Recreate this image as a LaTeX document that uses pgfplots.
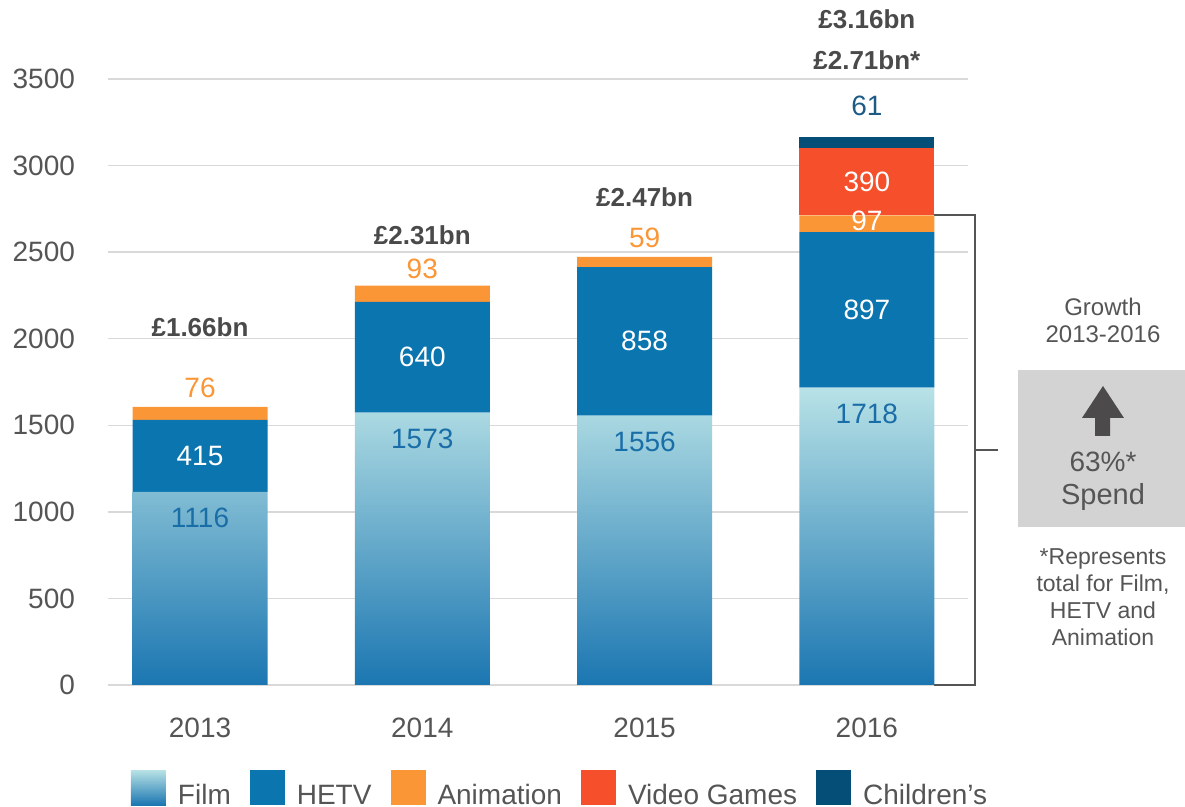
\documentclass[border=0pt]{standalone}
\usepackage{pgfplots}
\pgfplotsset{compat=1.18}
\usetikzlibrary{shadings}
\usepackage{fontspec}
\setmainfont{Liberation Sans}
\definecolor{hetv}{HTML}{0B75AF}
\definecolor{anim}{HTML}{FB9637}
\definecolor{vg}{HTML}{F5502B}
\definecolor{child}{HTML}{044E78}
\definecolor{filmtop}{HTML}{B8E2E6}
\definecolor{filmmid}{HTML}{74AACB}
\definecolor{filmbot}{HTML}{1B76B1}
\definecolor{txt}{HTML}{555555}
\definecolor{tot}{HTML}{4A4A4A}
\definecolor{grd}{HTML}{D9D9D9}
\definecolor{filmlbl}{HTML}{1A6EA8}
\definecolor{childlbl}{HTML}{1D5B85}
\definecolor{boxgray}{HTML}{D3D3D3}
\definecolor{arrowgray}{HTML}{4D4A4B}
\tikzset{lbl/.style={font=\fontsize{14}{16}\selectfont},
  totl/.style={font=\bfseries\fontsize{13}{15}\selectfont, text=tot}}
\begin{document}
\begin{tikzpicture}
\begin{axis}[
  at={(0,0)}, anchor=south west,
  scale only axis, width=430pt, height=303pt,
  xmin=-0.414, xmax=3.455, ymin=0, ymax=3500,
  ybar stacked, bar width=67.5pt,
  axis line style={draw=none}, major tick length=0pt,
  ytick={0,500,...,3500}, ymajorgrids, grid style={grd, line width=0.75pt},
  xtick={0,1,2,3}, xticklabels={2013,2014,2015,2016},
  tick label style={font=\fontsize{14}{16}\selectfont, text=txt},
  yticklabel style={xshift=-13pt},
  xticklabel style={yshift=-13pt},
  /pgf/number format/assume math mode=true,
  /pgf/number format/1000 sep={},
  clip=false,
  legend columns=5,
  legend style={draw=none, fill=none, inner sep=0pt, outer sep=0pt,
    font=\fontsize{14}{16}\selectfont, text=txt,
    cells={anchor=base west},
    at={(0.0267,-0.1403)}, anchor=north west,
    /tikz/every odd column/.append style={column sep=4pt},
    /tikz/every even column/.append style={column sep=7.5pt}},
  legend image code/.code={\path[#1, draw=none] (0pt,-0.5pt) rectangle (17.5pt,17pt);},
]
\addplot[draw=none, top color=filmtop, middle color=filmmid, bottom color=filmbot]
  coordinates {(0,1116) (1,1573) (2,1556) (3,1718)};
\addplot[draw=none, fill=hetv] coordinates {(0,415) (1,640) (2,858) (3,897)};
\addplot[draw=none, fill=anim] coordinates {(0,76) (1,93) (2,59) (3,97)};
\addplot[draw=none, fill=vg] coordinates {(0,0) (1,0) (2,0) (3,390)};
\addplot[draw=none, fill=child] coordinates {(0,0) (1,0) (2,0) (3,61)};
\legend{Film,HETV,Animation,Video Games,Children's}

\coordinate (f0) at (axis cs:0,1116);
\coordinate (f1) at (axis cs:1,1573);
\coordinate (f2) at (axis cs:2,1556);
\coordinate (f3) at (axis cs:3,1718);
\coordinate (h0) at (axis cs:0,1323.5);
\coordinate (h1) at (axis cs:1,1893);
\coordinate (h2) at (axis cs:2,1985);
\coordinate (h3) at (axis cs:3,2166.5);
\coordinate (a0) at (axis cs:0,1607);
\coordinate (a1) at (axis cs:1,2306);
\coordinate (a2) at (axis cs:2,2473);
\coordinate (a3) at (axis cs:3,2663.5);
\coordinate (v3) at (axis cs:3,2907);
\coordinate (c3) at (axis cs:3,3343);
\coordinate (t0) at (axis cs:0,2067);
\coordinate (t1) at (axis cs:1,2598);
\coordinate (t2) at (axis cs:2,2818);
\coordinate (t3a) at (axis cs:3,3609);
\coordinate (t3b) at (axis cs:3,3845);
\draw[txt, line width=1pt] (axis cs:3.3037,2712) -- (axis cs:3.488,2712) -- (axis cs:3.488,0) -- (axis cs:3.3037,0);
\draw[txt, line width=1pt] (axis cs:3.488,1356) -- (axis cs:3.59,1356);
\end{axis}
% value labels on top of the bars
\node[lbl, text=filmlbl, yshift=-13pt] at (f0) {1116};
\node[lbl, text=filmlbl, yshift=-13pt] at (f1) {1573};
\node[lbl, text=filmlbl, yshift=-13pt] at (f2) {1556};
\node[lbl, text=filmlbl, yshift=-13pt] at (f3) {1718};
\node[lbl, text=white] at (h0) {415};
\node[lbl, text=white] at (h1) {640};
\node[lbl, text=white] at (h2) {858};
\node[lbl, text=white] at (h3) {897};
\node[lbl, text=anim, yshift=9.5pt] at (a0) {76};
\node[lbl, text=anim, yshift=8.5pt] at (a1) {93};
\node[lbl, text=anim, yshift=9.5pt] at (a2) {59};
\node[lbl, text=white, yshift=1.5pt] at (a3) {97};
\node[lbl, text=white] at (v3) {390};
\node[lbl, text=childlbl] at (c3) {61};
\node[totl] at (t0) {£1.66bn};
\node[totl] at (t1) {£2.31bn};
\node[totl] at (t2) {£2.47bn};
\node[totl] at (t3a) {£2.71bn*};
\node[totl] at (t3b) {£3.16bn};
% right annotation
\node[text=txt, align=center, font=\fontsize{12}{13.5}\selectfont] at (497.5pt,182.25pt) {Growth\\2013-2016};
\fill[boxgray] (455pt,79pt) rectangle (540pt,157.5pt);
\fill[arrowgray] (497.5pt,149.5pt) -- (508pt,133.5pt) -- (501pt,133.5pt) -- (501pt,124.5pt) -- (493.5pt,124.5pt) -- (493.5pt,133.5pt) -- (487pt,133.5pt) -- cycle;
\node[text=txt, font=\fontsize{14}{17}\selectfont] at (497.5pt,111.5pt) {63\%*};
\node[text=txt, font=\fontsize{14.5}{17}\selectfont] at (497.5pt,94pt) {Spend};
\node[text=txt, align=center, font=\fontsize{11.5}{13.5}\selectfont] at (497.5pt,44pt) {*Represents\\total for Film,\\HETV and\\Animation};
\pgfresetboundingbox
\path (-54pt,-61pt) rectangle (538.5pt,342.5pt);
\end{tikzpicture}
\end{document}
